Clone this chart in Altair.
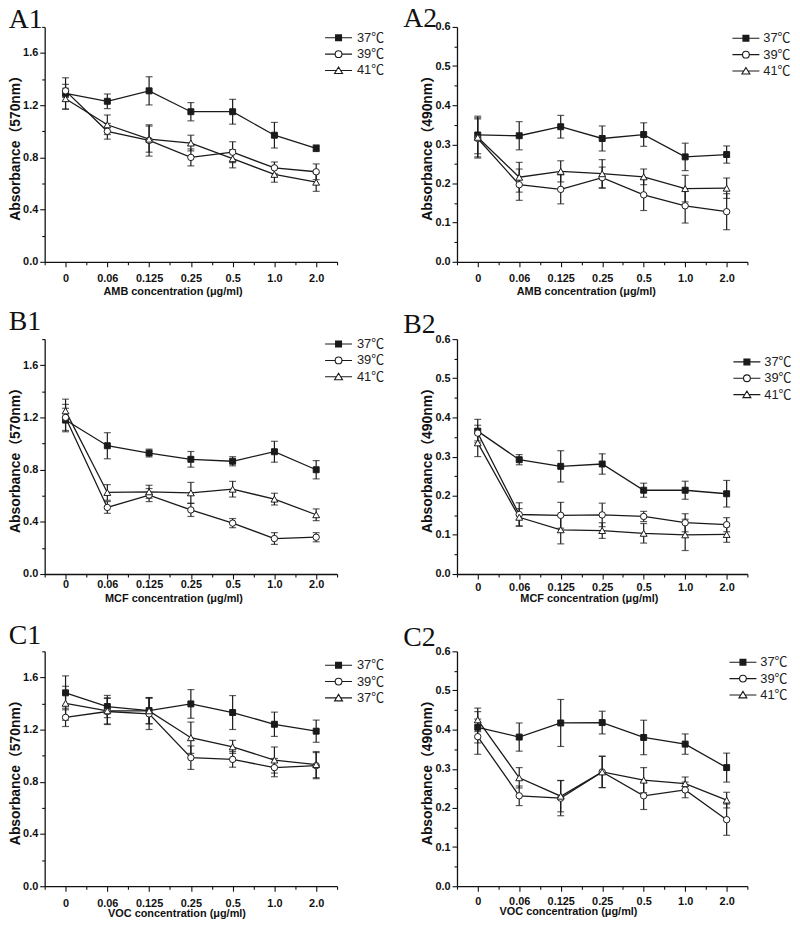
import altair as alt
import pandas as pd

conc_labels = ["0", "0.06", "0.125", "0.25", "0.5", "1.0", "2.0"]
series = ["37℃", "39℃", "41℃"]

# ---- A1 : AMB, 570 nm ----
a1_37 = [1.29, 1.23, 1.31, 1.15, 1.15, 0.97, 0.87]
a1_37_err = [0.12, 0.056, 0.108, 0.07, 0.095, 0.098, 0.025]
a1_39 = [1.31, 1.00, 0.93, 0.80, 0.84, 0.72, 0.69]
a1_39_err = [0.05, 0.06, 0.12, 0.065, 0.08, 0.045, 0.06]
a1_41 = [1.25, 1.05, 0.94, 0.91, 0.79, 0.67, 0.61]
a1_41_err = [0.08, 0.075, 0.10, 0.06, 0.07, 0.06, 0.07]

# ---- A2 : AMB, 490 nm ----
a2_37 = [0.324, 0.322, 0.345, 0.315, 0.325, 0.268, 0.274]
a2_37_err = [0.048, 0.036, 0.029, 0.032, 0.03, 0.035, 0.022]
a2_39 = [0.315, 0.197, 0.185, 0.215, 0.171, 0.143, 0.128]
a2_39_err = [0.05, 0.04, 0.037, 0.027, 0.04, 0.044, 0.046]
a2_41 = [0.318, 0.216, 0.231, 0.225, 0.217, 0.187, 0.188]
a2_41_err = [0.05, 0.038, 0.027, 0.036, 0.02, 0.034, 0.026]

# ---- B1 : MCF, 570 nm ----
b1_37 = [1.18, 0.983, 0.927, 0.879, 0.864, 0.937, 0.799]
b1_37_err = [0.09, 0.1, 0.03, 0.06, 0.035, 0.08, 0.07]
b1_39 = [1.20, 0.51, 0.605, 0.491, 0.39, 0.272, 0.282]
b1_39_err = [0.1, 0.045, 0.05, 0.05, 0.035, 0.045, 0.035]
b1_41 = [1.25, 0.625, 0.63, 0.622, 0.65, 0.574, 0.454]
b1_41_err = [0.09, 0.06, 0.05, 0.08, 0.06, 0.045, 0.045]

# ---- B2 : MCF, 490 nm ----
b2_37 = [0.365, 0.292, 0.275, 0.281, 0.214, 0.214, 0.205]
b2_37_err = [0.03, 0.013, 0.04, 0.026, 0.018, 0.023, 0.034]
b2_39 = [0.36, 0.152, 0.15, 0.151, 0.147, 0.131, 0.126]
b2_39_err = [0.02, 0.03, 0.033, 0.03, 0.013, 0.023, 0.018]
b2_41 = [0.335, 0.145, 0.113, 0.111, 0.104, 0.1, 0.101]
b2_41_err = [0.035, 0.022, 0.036, 0.02, 0.025, 0.04, 0.02]

# ---- C1 : VOC, 570 nm ----
c1_37 = [1.482, 1.377, 1.346, 1.397, 1.331, 1.241, 1.188]
c1_37_err = [0.13, 0.085, 0.1, 0.11, 0.13, 0.093, 0.085]
c1_39 = [1.294, 1.339, 1.321, 0.985, 0.972, 0.909, 0.924]
c1_39_err = [0.07, 0.1, 0.12, 0.09, 0.06, 0.07, 0.1]
c1_41 = [1.402, 1.344, 1.344, 1.138, 1.068, 0.967, 0.932]
c1_41_err = [0.13, 0.1, 0.1, 0.12, 0.05, 0.1, 0.1]

# ---- C2 : VOC, 490 nm ----
c2_37 = [0.406, 0.381, 0.417, 0.418, 0.38, 0.363, 0.303]
c2_37_err = [0.04, 0.036, 0.06, 0.029, 0.044, 0.026, 0.037]
c2_39 = [0.382, 0.231, 0.225, 0.292, 0.231, 0.246, 0.17]
c2_39_err = [0.045, 0.025, 0.045, 0.04, 0.035, 0.02, 0.04]
c2_41 = [0.425, 0.277, 0.23, 0.292, 0.271, 0.262, 0.22]
c2_41_err = [0.03, 0.026, 0.04, 0.04, 0.032, 0.017, 0.02]

y570_major = [0.0, 0.4, 0.8, 1.2, 1.6]
y570_minor = [0.2, 0.6, 1.0, 1.4, 1.8]
y490_major = [0.0, 0.1, 0.2, 0.3, 0.4, 0.5, 0.6]
y490_minor = [0.05, 0.15, 0.25, 0.35, 0.45, 0.55]
x_minor = [-0.5, 0.5, 1.5, 2.5, 3.5, 4.5, 5.5, 6.5]

FONT = "Liberation Sans, Arial, Noto Sans CJK SC, sans-serif"
INK = "#1a1a1a"
label_expr = "[" + ",".join("'%s'" % c for c in conc_labels) + "][datum.value]"

# legend symbols: line + marker (square drawn solid by nested outlines)
legend_paths = [
    "M-3.4,0H-0.75M0.75,0H3.4"
    "M-0.75,-0.75H0.75V0.75H-0.75Z"
    "M-0.5,-0.5H0.5V0.5H-0.5Z"
    "M-0.25,-0.25H0.25V0.25H-0.25Z"
    "M-0.05,-0.05H0.05V0.05H-0.05Z",
    "M-3.4,0H-0.85M0.85,0H3.4M0.85,0A0.85,0.85,0,1,1,-0.85,0A0.85,0.85,0,1,1,0.85,0Z",
    "M-3.4,0H-0.55M0.55,0H3.4M0,-0.9L1,0.75L-1,0.75Z",
]
point_styles = [("square", INK, 36), ("circle", "white", 42), ("triangle-up", "white", 48)]


def make_panel(p):
    rows = []
    for s, vals, errs in zip(series, p["vals"], p["errs"]):
        for i, (v, e) in enumerate(zip(vals, errs)):
            rows.append({"idx": i, "series": s, "value": v, "lo": v - e, "hi": v + e})
    df = pd.DataFrame(rows)
    base = alt.Chart(df)
    xs = alt.Scale(domain=[-0.5, 6.5], nice=False, zero=False)
    ys = alt.Scale(domain=[0, p["ymax"]], nice=False)

    x_main = alt.X("idx:Q", scale=xs, axis=alt.Axis(
        orient="bottom", values=list(range(7)), labelExpr=label_expr,
        title=p["xtitle"], grid=False, tickSize=5, labelPadding=p["lpad"],
        titlePadding=p["tpad"], titleX=p["tx"], titleAlign="center",
        titleFontSize=11, titleFontWeight="bold"))
    y_main = alt.Y("value:Q", scale=ys, axis=alt.Axis(
        orient="left", values=p["ymajor"], format=".1f", title=p["ytitle"],
        grid=False, tickSize=5, labelPadding=2, titlePadding=0,
        titleFontSize=14, titleFontWeight="bold"))
    lines = base.mark_line(color=INK, strokeWidth=1.3).encode(
        x=x_main, y=y_main, detail="series:N")

    minor = base.mark_line(opacity=0).encode(
        x=alt.X("idx:Q", scale=xs, axis=alt.Axis(
            orient="bottom", values=x_minor, labels=False, domain=False,
            tickSize=3, title=None, grid=False)),
        y=alt.Y("value:Q", scale=ys, axis=alt.Axis(
            orient="left", values=p["yminor"], labels=False, domain=False,
            tickSize=3, title=None, grid=False)),
        detail="series:N")

    xe = alt.X("idx:Q", scale=xs, axis=None)
    rules = base.mark_rule(color=INK, strokeWidth=1.2).encode(
        x=xe, y=alt.Y("lo:Q", scale=ys, axis=None), y2="hi:Q")
    cap_lo = base.mark_tick(color=INK, thickness=1.2, size=7, orient="horizontal").encode(
        x=xe, y=alt.Y("lo:Q", scale=ys, axis=None))
    cap_hi = base.mark_tick(color=INK, thickness=1.2, size=7, orient="horizontal").encode(
        x=xe, y=alt.Y("hi:Q", scale=ys, axis=None))

    pts = []
    for s, (shape, fill, size) in zip(series, point_styles):
        pts.append(base.transform_filter(alt.datum.series == s).mark_point(
            shape=shape, fill=fill, stroke=INK, strokeWidth=1, size=size, opacity=1, filled=True
        ).encode(x=xe, y=alt.Y("value:Q", scale=ys, axis=None)))

    leg_kwargs = dict(orient="none", legendX=p["lx"], legendY=p["ly"], title=None,
                      symbolSize=64, symbolStrokeWidth=1.1, symbolStrokeColor=INK,
                      symbolFillColor="white", symbolOpacity=1,
                      labelFontSize=13, labelFont=FONT, labelColor="#222",
                      labelOffset=p["loff"], rowPadding=2.5, padding=0)
    if p.get("legend_expr"):
        leg_kwargs["labelExpr"] = p["legend_expr"]
    leg = base.transform_filter("false").mark_point(
        opacity=1, stroke=INK, strokeWidth=1.1, filled=False
    ).encode(
        shape=alt.Shape("series:N", scale=alt.Scale(domain=series, range=legend_paths),
                        legend=alt.Legend(**leg_kwargs)))

    return alt.layer(lines, minor, rules, cap_lo, cap_hi, *pts, leg).resolve_axis(
        x="independent", y="independent"
    ).properties(
        width=p["w"], height=p["h"],
        title=alt.TitleParams(p["label"], anchor="start", frame="bounds", orient="top",
                              font="Liberation Serif", fontSize=28, fontWeight="normal",
                              color="#111", baseline="alphabetic", offset=0,
                              dx=p["tdx"], dy=p["tdy"]))


panels = {
    "A1": dict(label="A1", vals=[a1_37, a1_39, a1_41], errs=[a1_37_err, a1_39_err, a1_41_err],
               ymax=1.8, ymajor=y570_major, yminor=y570_minor, ytitle="Absorbance（570nm）",
               xtitle="AMB concentration (μg/ml)", w=295, h=237, lpad=6, tpad=2, tx=129,
               lx=290, ly=4.5, loff=12, tdx=0, tdy=29.5),
    "A2": dict(label="A2", vals=[a2_37, a2_39, a2_41], errs=[a2_37_err, a2_39_err, a2_41_err],
               ymax=0.6, ymajor=y490_major, yminor=y490_minor, ytitle="Absorbance（490nm）",
               xtitle="AMB concentration (μg/ml)", w=293, h=237, lpad=6, tpad=2, tx=130,
               lx=285, ly=5, loff=11, tdx=-18, tdy=34.5),
    "B1": dict(label="B1", vals=[b1_37, b1_39, b1_41], errs=[b1_37_err, b1_39_err, b1_41_err],
               ymax=1.8, ymajor=y570_major, yminor=y570_minor, ytitle="Absorbance（570nm）",
               xtitle="MCF concentration (μg/ml)", w=295, h=237, lpad=0, tpad=3, tx=130,
               lx=290, ly=-1.5, loff=12, tdx=0, tdy=20),
    "B2": dict(label="B2", vals=[b2_37, b2_39, b2_41], errs=[b2_37_err, b2_39_err, b2_41_err],
               ymax=0.6, ymajor=y490_major, yminor=y490_minor, ytitle="Absorbance（490nm）",
               xtitle="MCF concentration (μg/ml)", w=293, h=237, lpad=3, tpad=0, tx=133,
               lx=286, ly=16.5, loff=11, tdx=-18, tdy=28),
    "C1": dict(label="C1", vals=[c1_37, c1_39, c1_41], errs=[c1_37_err, c1_39_err, c1_41_err],
               ymax=1.8, ymajor=y570_major, yminor=y570_minor, ytitle="Absorbance（570nm）",
               xtitle="VOC concentration (μg/ml)", w=295, h=237, lpad=6, tpad=0, tx=133,
               lx=290, ly=7.5, loff=12, tdx=0, tdy=21, legend_expr="datum.label == '41℃' ? '37℃' : datum.label"),
    "C2": dict(label="C2", vals=[c2_37, c2_39, c2_41], errs=[c2_37_err, c2_39_err, c2_41_err],
               ymax=0.6, ymajor=y490_major, yminor=y490_minor, ytitle="Absorbance（490nm）",
               xtitle="VOC concentration (μg/ml)", w=293, h=237, lpad=4, tpad=0, tx=112,
               lx=282, ly=4.5, loff=11, tdx=-18, tdy=29),
}

order = ["A1", "A2", "B1", "B2", "C1", "C2"]
chart = alt.concat(
    *[make_panel(panels[k]) for k in order],
    columns=2, spacing={"row": 78, "column": 121}, bounds="flush"
).resolve_scale(shape="independent").resolve_legend(shape="independent").properties(
    padding={"left": 0, "top": -7, "right": 0, "bottom": -3}, background="white"
).configure_view(stroke=None).configure_axis(
    labelFont=FONT, labelFontWeight="bold", labelFontSize=11, labelColor="#111",
    titleFont=FONT, titleColor="#111", domainColor="#111", domainWidth=1.3,
    tickColor="#111", tickWidth=1.1
)

chart.save("out.html", embed_options={"renderer": "svg", "actions": False})
